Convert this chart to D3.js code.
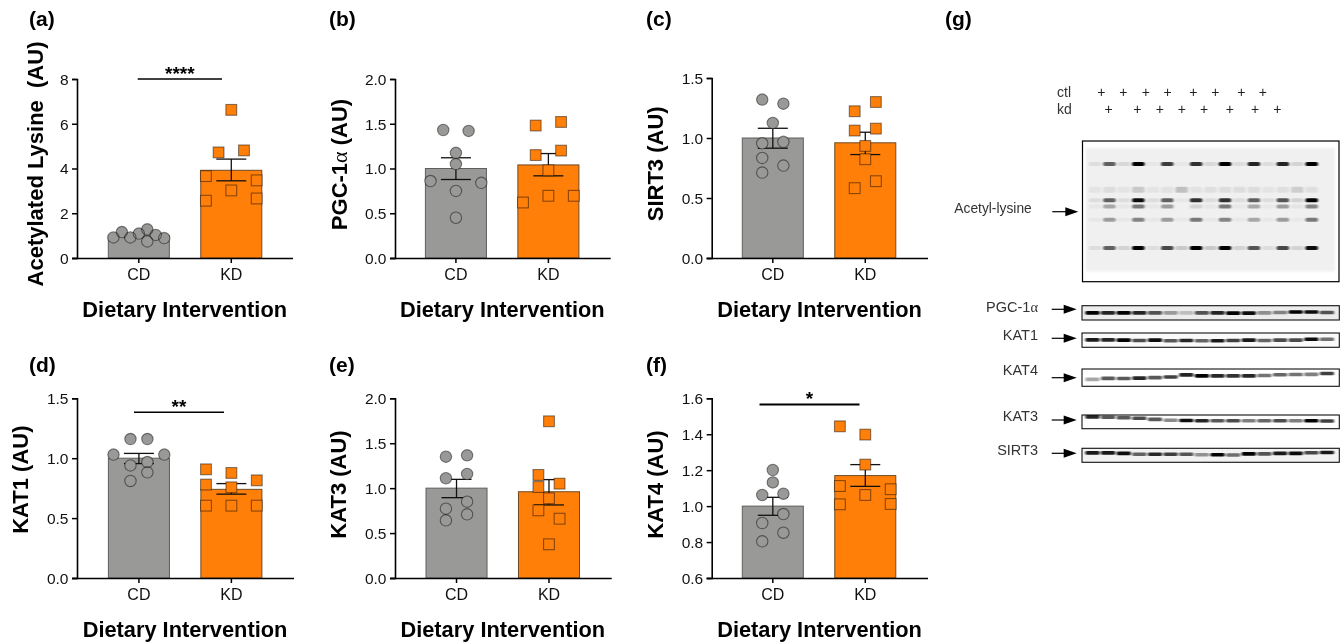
<!DOCTYPE html>
<html><head><meta charset="utf-8">
<script src="https://cdn.jsdelivr.net/npm/d3@7/dist/d3.min.js"></script>
<style>html,body{margin:0;padding:0;background:#fff}svg{display:block}text{font-family:"Liberation Sans",Arial,sans-serif;white-space:pre}</style>
</head><body><svg id="c" width="1343" height="642"></svg>
<script>
// ---------- data ----------
const groups = ["CD", "KD"];

const aMeans = [1.0, 3.92], aHi = [1.09, 4.42], aLo = [0.91, 3.45];
const aCD = [0.92, 1.16, 0.92, 1.09, 1.28, 0.74, 1.03, 0.89];
const aCDSlots = [-3, -2, -1, 0, 1, 1, 2, 3];
const aKD = [6.62, 4.72, 4.81, 3.66, 3.47, 3.02, 2.56, 2.66];
const aKDSlots = [0, -1.5, 1.5, -3, 3, 0, -3, 3];

const bMeans = [1.0, 1.04], bHi = [1.12, 1.167], bLo = [0.877, 0.918];
const bCD = [1.43, 1.42, 1.175, 1.05, 0.86, 0.84, 0.75, 0.45];
const bCDSlots = [-1.5, 1.5, 0, 0, -3, 3, 0, 0];
const bKD = [1.48, 1.52, 1.15, 1.2, 0.98, 0.695, 0.695, 0.62];
const bKDSlots = [-1.5, 1.5, -1.5, 1.5, 0, 0, 3, -3];

const cMeans = [1.0, 0.96], cHi = [1.081, 1.048], cLo = [0.915, 0.862];
const cCD = [1.32, 1.286, 1.126, 0.956, 0.968, 0.834, 0.77, 0.712];
const cCDSlots = [-1.25, 1.25, 0, -1.25, 1.25, -1.25, 1.25, -1.25];
const cKD = [1.30, 1.223, 1.062, 1.078, 0.934, 0.823, 0.64, 0.582];
const cKDSlots = [1.25, -1.25, -1.25, 1.25, 0, 0, 1.25, -1.25];

const dMeans = [1.0, 0.74], dHi = [1.04, 0.788], dLo = [0.955, 0.70];
const dCD = [1.16, 1.16, 1.03, 1.03, 0.94, 0.968, 0.882, 0.81];
const dCDSlots = [-1, 1, -3, 3, -1, 1, 1, -1];
const dKD = [0.907, 0.877, 0.815, 0.78, 0.757, 0.604, 0.604, 0.604];
const dKDSlots = [-3, 0, 3, -3, 0, -3, 0, 3];

const eMeans = [1.0, 0.96], eHi = [1.098, 1.095], eLo = [0.894, 0.813];
const eCD = [1.35, 1.365, 1.11, 1.158, 0.85, 0.772, 0.709, 0.642];
const eCDSlots = [-1.25, 1.25, -1.25, 1.25, 1.25, -1.25, 1.25, -1.25];
const eKD = [1.744, 1.147, 1.013, 1.05, 0.887, 0.753, 0.66, 0.375];
const eKDSlots = [0, -1.25, -1.25, 1.25, 0, -1.25, 1.25, 0];

const fMeans = [1.0, 1.17], fHi = [1.049, 1.231], fLo = [0.949, 1.11];
const fCD = [1.201, 1.132, 1.062, 1.069, 0.956, 0.906, 0.852, 0.804];
const fCDSlots = [0, 0, -1.25, 1.25, 1.25, -1.25, 1.25, -1.25];
const fKD = [1.444, 1.398, 1.231, 1.112, 1.094, 1.062, 1.01, 1.012];
const fKDSlots = [-3, 0, 0, -3, 3, 0, -3, 3];

const yLabels = ["Acetylated Lysine  (AU)", "PGC-1|α| (AU)", "SIRT3 (AU)", "KAT1 (AU)", "KAT3 (AU)", "KAT4 (AU)"];
const panelLetters = ["(a)", "(b)", "(c)", "(d)", "(e)", "(f)"];
const xTitle = "Dietary Intervention";
const yDomains = [[0, 8], [0, 2], [0, 1.5], [0, 1.5], [0, 2], [0.6, 1.6]];
const yTicks = [[0, 2, 4, 6, 8], [0, .5, 1, 1.5, 2], [0, .5, 1, 1.5], [0, .5, 1, 1.5], [0, .5, 1, 1.5, 2], [.6, .8, 1, 1.2, 1.4, 1.6]];
const yFormats = ["d", ".1f", ".1f", ".1f", ".1f", ".1f"];
const sigStars = ["****", null, null, "**", null, "*"];
const sigLevels = [8.0, null, null, 1.383, null, 1.565];

// Blot band intensities, one per lane (0 = none, 1 = saturated)
const acetylRowsMobility = [0.13, 0.338, 0.424, 0.473, 0.58, 0.81];
const acetylRows = [
  [.08, .6, .1, 1, .04, .75, .04, .8, .1, 1, .08, .85, .08, .85, .12, 1],
  [.05, .08, .05, .16, .05, .06, .2, .06, .07, .08, .08, .08, .05, .07, .14, .07],
  [.08, .6, .08, .95, .08, .6, .04, .8, .08, .8, .08, .6, .08, .65, .12, 1],
  [.04, .3, .04, .5, .04, .35, 0, .12, .04, .5, .03, .3, .03, .35, .05, .45],
  [.04, .35, .04, .45, .04, .35, .03, .5, .04, .45, .03, .3, .03, .35, .03, .5],
  [.08, .6, .12, 1, .08, .7, .16, 1, .16, 1, .12, .65, .08, .7, .12, .95]
];
const stripNames = ["PGC-1|α", "KAT1", "KAT4", "KAT3", "SIRT3"];
const stripPGC  = [1, .85, 1, .85, .65, .35, .2, .65, .85, 1, .95, .4, .45, 1, .95, .65];
const stripKAT1 = [.9, .85, 1, .7, .95, .65, .85, .6, .9, .75, .9, .6, .7, .7, .95, .55];
const stripKAT4 = [.35, .65, .65, .85, .65, .75, .85, 1, .85, .8, .85, .55, .6, .55, .5, .75];
const stripKAT3 = [.85, .65, .65, .7, .65, .45, .95, .85, .65, .7, .5, .6, .7, .5, 1, .75];
const stripSIRT = [.9, .9, .95, .6, .85, .75, .65, .4, 1, .55, 1, .65, .9, .95, .7, .9];
// Band mobility across lanes within each strip (0 top, 1 bottom)
const mobPGC  = [.5, .5, .5, .5, .5, .5, .5, .5, .5, .52, .52, .5, .48, .44, .44, .48];
const mobKAT1 = [.48, .48, .5, .52, .5, .54, .52, .54, .54, .52, .5, .52, .5, .5, .44, .44];
const mobKAT4 = [.6, .54, .55, .53, .5, .46, .34, .4, .4, .4, .4, .38, .33, .32, .31, .26];
const mobKAT3 = [.14, .16, .2, .24, .32, .38, .4, .42, .42, .42, .42, .42, .42, .42, .42, .44];
const mobSIRT = [.33, .33, .36, .42, .42, .42, .42, .46, .46, .48, .4, .4, .36, .36, .32, .3];
// Loading order of the two groups along the gel, in lane units
const ctlLanes = [1, 2.88, 4.79, 6.66, 8.84, 10.72, 12.94, 14.77];
const kdLanes = [1.63, 4.07, 5.98, 7.86, 9.76, 11.95, 14.11, 16];
const lanes = d3.range(16);

// ---------- panels ----------
const series = [
  [aMeans, aHi, aLo, aCD, aCDSlots, aKD, aKDSlots],
  [bMeans, bHi, bLo, bCD, bCDSlots, bKD, bKDSlots],
  [cMeans, cHi, cLo, cCD, cCDSlots, cKD, cKDSlots],
  [dMeans, dHi, dLo, dCD, dCDSlots, dKD, dKDSlots],
  [eMeans, eHi, eLo, eCD, eCDSlots, eKD, eKDSlots],
  [fMeans, fHi, fLo, fCD, fCDSlots, fKD, fKDSlots]
];
const layout = [
  {ax: 77,    end: 293,   b0: 108.3, y0: 258, y1: 79,    lx: 35,    ly: 164,   tx: 184.7, letx: 29},
  {ax: 395,   end: 610.7, b0: 425.4, y0: 258, y1: 79,    lx: 339,   ly: 164.5, tx: 502.3, letx: 329},
  {ax: 711.7, end: 928,   b0: 742.3, y0: 258, y1: 78,    lx: 655,   ly: 163.8, tx: 819.5, letx: 646},
  {ax: 77,    end: 294,   b0: 108.4, y0: 578, y1: 398.3, lx: 20.7,  ly: 479.7, tx: 185,   letx: 29},
  {ax: 395,   end: 611.7, b0: 426,   y0: 578, y1: 398.3, lx: 338.3, ly: 484.5, tx: 502.8, letx: 329},
  {ax: 711.7, end: 928,   b0: 742.3, y0: 578, y1: 398.3, lx: 655,   ly: 484.5, tx: 819.5, letx: 646}
];
const sigSpans = [[137.7, 222], null, null, [134, 224], null, [759.5, 859.5]];
const letterBase = [26, 26, 26, 371.5, 371.5, 371.5];
const titleBase = [317, 317, 317, 637, 637, 637];
const FILL = {CD: "#999998", KD: "#FF7F09"};
const EDGE = {CD: "#5e5e5e", KD: "#6e4a26"};
const svg = d3.select("#c");
const defs = svg.append("defs");
defs.append("filter").attr("id", "gelBlur").attr("x", "-30%").attr("y", "-150%").attr("width", "160%").attr("height", "400%")
  .append("feGaussianBlur").attr("stdDeviation", "1.2 0.7");
defs.append("filter").attr("id", "stripBlur").attr("x", "-30%").attr("y", "-150%").attr("width", "160%").attr("height", "400%")
  .append("feGaussianBlur").attr("stdDeviation", "0.9 0.5");
defs.append("filter").attr("id", "softBlur").attr("x", "-30%").attr("y", "-30%").attr("width", "160%").attr("height", "160%")
  .append("feGaussianBlur").attr("stdDeviation", "0.9");

function richText(sel, s) {
  s.split("|").forEach((part, i) => {
    const t = sel.append("tspan").text(part);
    if (i === 1) t.attr("font-family", "'Liberation Serif',serif").attr("font-weight", "normal");
  });
}

layout.forEach((L, i) => {
  const [means, hi, lo, cd, cdS, kd, kdS] = series[i];
  const g = svg.append("g");
  const y = d3.scaleLinear().domain(yDomains[i]).range([L.y0, L.y1]);
  const x = d3.scaleBand().domain(groups).range([L.b0, L.b0 + 153.5]).paddingInner(0.34).paddingOuter(0);
  const slot = d3.scaleLinear().domain([-3, 3]).range([-25.4, 25.4]);
  const cx = k => x(k) + x.bandwidth() / 2;

  g.selectAll("rect.bar").data(groups).join("rect").attr("class", "bar")
    .attr("x", d => x(d)).attr("width", x.bandwidth())
    .attr("y", (d, j) => y(means[j])).attr("height", (d, j) => L.y0 - y(means[j]))
    .attr("fill", d => FILL[d]).attr("stroke", d => EDGE[d]).attr("stroke-width", 1);

  groups.forEach((k, j) => {
    const e = g.append("g").attr("stroke", "#111").attr("stroke-width", 1.3);
    e.append("line").attr("x1", cx(k)).attr("x2", cx(k)).attr("y1", y(hi[j])).attr("y2", y(lo[j]));
    [hi[j], lo[j]].forEach(v => e.append("line").attr("x1", cx(k) - 15).attr("x2", cx(k) + 15).attr("y1", y(v)).attr("y2", y(v)));
  });

  // Markers: outlines multiply so they read grey on white and dark on the bar
  [["fill", FILL.CD, "none"], ["line", "none", "#8a8a8a"]].forEach(([cls, f, s]) => {
    g.selectAll("circle." + cls).data(cd).join("circle").attr("class", cls)
      .attr("cx", (d, j) => cx("CD") + slot(cdS[j])).attr("cy", d => y(d)).attr("r", 5.7)
      .attr("fill", f).attr("stroke", s).attr("stroke-width", 1.1)
      .style("mix-blend-mode", cls === "line" ? "multiply" : null);
    g.selectAll("rect." + cls).data(kd).join("rect").attr("class", cls)
      .attr("x", (d, j) => cx("KD") + slot(kdS[j]) - 5.4).attr("y", d => y(d) - 5.4)
      .attr("width", 10.8).attr("height", 10.8)
      .attr("fill", cls === "fill" ? FILL.KD : "none").attr("stroke", s).attr("stroke-width", 1.1)
      .style("mix-blend-mode", cls === "line" ? "multiply" : null);
  });

  const yAxis = g.append("g").attr("transform", `translate(${L.ax},0)`)
    .call(d3.axisLeft(y).tickValues(yTicks[i]).tickFormat(d3.format(yFormats[i])).tickSize(5).tickPadding(3.5));
  const xAxis = g.append("g").attr("transform", `translate(0,${L.y0})`)
    .call(d3.axisBottom(x).tickSize(5).tickPadding(3).tickSizeOuter(0));
  xAxis.select(".domain").attr("d", `M${L.ax - 5},0.5H${L.end}`);
  [yAxis, xAxis].forEach(a => {
    a.selectAll("text").attr("fill", "#111").attr("font-family", "'Liberation Sans',Arial,sans-serif");
    a.selectAll("line,path").attr("stroke", "#000").attr("stroke-width", 1.5);
  });
  yAxis.select(".domain").attr("stroke-width", 1.6);
  yAxis.selectAll("text").attr("font-size", 15.5).attr("dy", "0.34em");
  xAxis.selectAll("text").attr("font-size", 16).attr("dy", "0.85em");

  richText(g.append("text").attr("transform", `translate(${L.lx},${L.ly}) rotate(-90)`)
    .attr("text-anchor", "middle").attr("dy", "0.35em").attr("font-weight", "bold").attr("font-size", 22).attr("fill", "#000"), yLabels[i]);
  g.append("text").attr("x", L.tx).attr("y", titleBase[i]).attr("text-anchor", "middle")
    .attr("font-weight", "bold").attr("font-size", 21.8).attr("fill", "#000").text(xTitle);
  g.append("text").attr("x", L.letx).attr("y", letterBase[i]).attr("font-weight", "bold").attr("font-size", 21).attr("fill", "#000").text(panelLetters[i]);

  if (sigStars[i]) {
    const [a, b] = sigSpans[i];
    g.append("line").attr("x1", a).attr("x2", b).attr("y1", y(sigLevels[i])).attr("y2", y(sigLevels[i]))
      .attr("stroke", "#000").attr("stroke-width", i === 5 ? 2 : 1.5);
    g.append("text").attr("x", (a + b) / 2).attr("y", y(sigLevels[i]) + 0.5).attr("text-anchor", "middle")
      .attr("font-weight", "bold").attr("font-size", 19).attr("fill", "#000").text(sigStars[i]);
  }
});

// ---------- panel (g): blots ----------
const gel = svg.append("g");
gel.append("text").attr("x", 945).attr("y", 26).attr("font-weight", "bold").attr("font-size", 21).attr("fill", "#000").text("(g)");

const plus = (xx, yy) => gel.append("text").attr("x", xx).attr("y", yy).attr("text-anchor", "middle").attr("dy", "0.35em").attr("font-size", 14).attr("fill", "#222").text("+");
const headerX = d3.scaleLinear().domain([1, 16]).range([1101.3, 1277.3]);
ctlLanes.forEach(l => plus(headerX(l), 92.3));
kdLanes.forEach(l => plus(headerX(l), 109));
gel.append("text").attr("x", 1057).attr("y", 92.5).attr("dy", "0.35em").attr("font-size", 14).attr("fill", "#333").text("ctl");
gel.append("text").attr("x", 1057).attr("y", 109).attr("dy", "0.35em").attr("font-size", 14).attr("fill", "#333").text("kd");

function arrow(x0, x1, yy) {
  gel.append("line").attr("x1", x0).attr("x2", x1 - 8).attr("y1", yy).attr("y2", yy).attr("stroke", "#000").attr("stroke-width", 1.2);
  gel.append("path").attr("d", d3.line()([[x1 - 13, yy - 4.5], [x1, yy], [x1 - 13, yy + 4.5]]) + "Z").attr("fill", "#000");
}

// Acetyl-lysine membrane
gel.append("rect").attr("x", 1082.5).attr("y", 141).attr("width", 256.5).attr("height", 140.7).attr("fill", "#fff").attr("stroke", "#000").attr("stroke-width", 1.2);
gel.append("rect").attr("x", 1085.7).attr("y", 148).attr("width", 249.3).attr("height", 123.5).attr("fill", "#f0f0f0").attr("filter", "url(#softBlur)");
const acX = d3.scalePoint().domain(lanes).range([1095, 1311.7]);
const acY = d3.scaleLinear().domain([0, 1]).range([148, 271.5]);
const acBands = gel.append("g").attr("filter", "url(#gelBlur)");
acetylRows.forEach((row, r) => {
  acBands.selectAll(null).data(row).join("rect")
    .attr("x", (d, l) => acX(l) - 6.2).attr("width", 12.4)
    .attr("y", d => acY(acetylRowsMobility[r]) - (r === 1 ? 3 : 2)).attr("height", r === 1 ? 6 : 4).attr("rx", 1.5)
    .attr("fill", "#000").attr("opacity", d => d);
});
gel.append("text").attr("x", 954.3).attr("y", 208.3).attr("dy", "0.35em").attr("font-size", 13.8).attr("fill", "#333").text("Acetyl-lysine");
arrow(1052.3, 1078.3, 211.7);

// Strips
const strips = [
  {vals: stripPGC,  mob: mobPGC,  top: 305.7, bot: 320,   bg: "#ececec", ly: 306.7, ay: 309.3},
  {vals: stripKAT1, mob: mobKAT1, top: 333,   bot: 347.3, bg: "#fafafa", ly: 335,   ay: 338.3},
  {vals: stripKAT4, mob: mobKAT4, top: 369,   bot: 386.3, bg: "#ffffff", ly: 370,   ay: 377.7},
  {vals: stripKAT3, mob: mobKAT3, top: 415,   bot: 428.7, bg: "#fdfdfd", ly: 416,   ay: 420},
  {vals: stripSIRT, mob: mobSIRT, top: 448.3, bot: 462.3, bg: "#f2f2f2", ly: 450,   ay: 453.3}
];
strips.forEach((S, i) => {
  const sx = d3.scalePoint().domain(lanes).range([1092.5, 1327]);
  const sy = d3.scaleLinear().domain([0, 1]).range([S.top, S.bot]);
  gel.append("rect").attr("x", 1082).attr("y", S.top).attr("width", 257.3).attr("height", S.bot - S.top).attr("fill", S.bg);
  gel.append("g").attr("filter", "url(#stripBlur)").selectAll("rect").data(S.vals).join("rect")
    .attr("x", (d, l) => sx(l) - 7).attr("width", 14)
    .attr("y", (d, l) => sy(S.mob[l]) - 1.8).attr("height", 3.6).attr("rx", 1.2)
    .attr("fill", "#000").attr("opacity", d => d);
  gel.append("rect").attr("x", 1082).attr("y", S.top).attr("width", 257.3).attr("height", S.bot - S.top).attr("fill", "none").attr("stroke", "#111").attr("stroke-width", 1.1);
  richText(gel.append("text").attr("x", 1038).attr("y", S.ly).attr("dy", "0.35em").attr("text-anchor", "end").attr("font-size", 14.5).attr("fill", "#333"), stripNames[i]);
  arrow(1051.7, 1076.7, S.ay);
});
</script></body></html>
